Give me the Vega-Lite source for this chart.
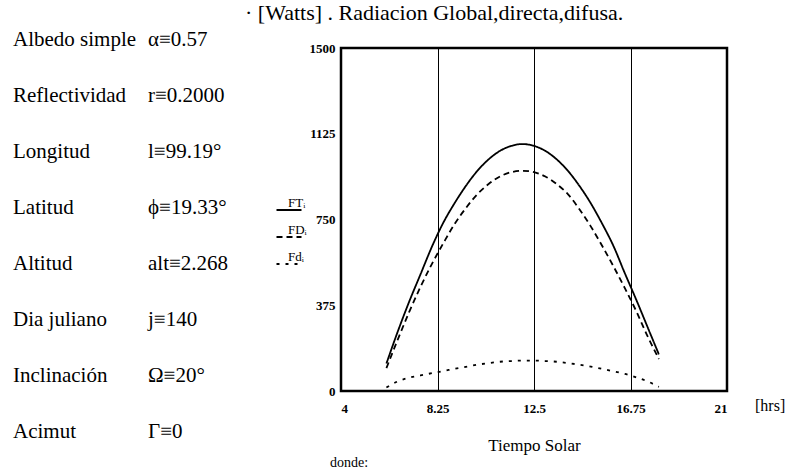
{
  "$schema": "https://vega.github.io/schema/vega-lite/v6.json",
  "background": "white",
  "padding": {"left": 0, "top": 0, "right": 5, "bottom": 0},
  "config": {"font": "Liberation Serif", "view": {"stroke": null}, "legend": {"labelFontSize": 13, "labelFont": "Liberation Serif", "labelColor": "black"}},
  "bounds": "flush",
  "spacing": 101,
  "hconcat": [
    {
      "width": 240,
      "height": 392,
      "data": {"values": [
        {"fila": 1, "parametro": "Albedo simple", "valor": "α≡0.57"},
        {"fila": 2, "parametro": "Reflectividad", "valor": "r≡0.2000"},
        {"fila": 3, "parametro": "Longitud", "valor": "l≡99.19°"},
        {"fila": 4, "parametro": "Latitud", "valor": "ϕ≡19.33°"},
        {"fila": 5, "parametro": "Altitud", "valor": "alt≡2.268"},
        {"fila": 6, "parametro": "Dia juliano", "valor": "j≡140"},
        {"fila": 7, "parametro": "Inclinación", "valor": "Ω≡20°"},
        {"fila": 8, "parametro": "Acimut", "valor": "Γ≡0"}
      ]},
      "transform": [{"fold": ["parametro", "valor"], "as": ["columna", "texto"]}],
      "mark": {"type": "text", "align": "left", "baseline": "middle", "fontSize": 21, "color": "black", "dy": -8},
      "encoding": {
        "x": {"field": "columna", "type": "nominal", "axis": null,
              "scale": {"type": "point", "domain": ["parametro", "valor"], "range": [13, 148], "padding": 0}},
        "y": {"field": "fila", "type": "quantitative", "axis": null,
              "scale": {"domain": [1, 8], "reverse": true, "nice": false, "zero": false}},
        "text": {"field": "texto", "type": "nominal"}
      }
    },
    {
      "width": 386,
      "height": 343,
      "view": {"stroke": "black", "strokeWidth": 2.5},
      "resolve": {"legend": {"strokeDash": "independent"}},
      "title": {"text": "· [Watts] . Radiacion Global,directa,difusa.", "anchor": "start", "frame": "group",
                "dx": -96, "offset": 17, "fontSize": 22, "fontWeight": "normal", "font": "Liberation Serif", "color": "black"},
      "layer": [
        {
          "data": {"values": [
            {"t": 6.0, "serie": "FTᵢ", "F": 120}, {"t": 6.5, "serie": "FTᵢ", "F": 260}, {"t": 7.0, "serie": "FTᵢ", "F": 390},
            {"t": 7.5, "serie": "FTᵢ", "F": 510}, {"t": 8.0, "serie": "FTᵢ", "F": 630}, {"t": 8.5, "serie": "FTᵢ", "F": 735},
            {"t": 9.0, "serie": "FTᵢ", "F": 821}, {"t": 9.5, "serie": "FTᵢ", "F": 897}, {"t": 10.0, "serie": "FTᵢ", "F": 962},
            {"t": 10.5, "serie": "FTᵢ", "F": 1013}, {"t": 11.0, "serie": "FTᵢ", "F": 1050}, {"t": 11.5, "serie": "FTᵢ", "F": 1072},
            {"t": 12.0, "serie": "FTᵢ", "F": 1080}, {"t": 12.5, "serie": "FTᵢ", "F": 1072}, {"t": 13.0, "serie": "FTᵢ", "F": 1050},
            {"t": 13.5, "serie": "FTᵢ", "F": 1013}, {"t": 14.0, "serie": "FTᵢ", "F": 962}, {"t": 14.5, "serie": "FTᵢ", "F": 897},
            {"t": 15.0, "serie": "FTᵢ", "F": 821}, {"t": 15.5, "serie": "FTᵢ", "F": 732}, {"t": 16.0, "serie": "FTᵢ", "F": 634},
            {"t": 16.5, "serie": "FTᵢ", "F": 515}, {"t": 17.0, "serie": "FTᵢ", "F": 400}, {"t": 17.5, "serie": "FTᵢ", "F": 280},
            {"t": 18.0, "serie": "FTᵢ", "F": 160},
            {"t": 6.0, "serie": "FDᵢ", "F": 100}, {"t": 6.5, "serie": "FDᵢ", "F": 225}, {"t": 7.0, "serie": "FDᵢ", "F": 345},
            {"t": 7.5, "serie": "FDᵢ", "F": 455}, {"t": 8.0, "serie": "FDᵢ", "F": 555}, {"t": 8.5, "serie": "FDᵢ", "F": 645},
            {"t": 9.0, "serie": "FDᵢ", "F": 730}, {"t": 9.5, "serie": "FDᵢ", "F": 800}, {"t": 10.0, "serie": "FDᵢ", "F": 860},
            {"t": 10.5, "serie": "FDᵢ", "F": 905}, {"t": 11.0, "serie": "FDᵢ", "F": 938}, {"t": 11.5, "serie": "FDᵢ", "F": 957},
            {"t": 12.0, "serie": "FDᵢ", "F": 963}, {"t": 12.5, "serie": "FDᵢ", "F": 957}, {"t": 13.0, "serie": "FDᵢ", "F": 938},
            {"t": 13.5, "serie": "FDᵢ", "F": 905}, {"t": 14.0, "serie": "FDᵢ", "F": 860}, {"t": 14.5, "serie": "FDᵢ", "F": 795},
            {"t": 15.0, "serie": "FDᵢ", "F": 720}, {"t": 15.5, "serie": "FDᵢ", "F": 635}, {"t": 16.0, "serie": "FDᵢ", "F": 545},
            {"t": 16.5, "serie": "FDᵢ", "F": 450}, {"t": 17.0, "serie": "FDᵢ", "F": 350}, {"t": 17.5, "serie": "FDᵢ", "F": 240},
            {"t": 18.0, "serie": "FDᵢ", "F": 140},
            {"t": 6.0, "serie": "Fdᵢ", "F": 15}, {"t": 6.5, "serie": "Fdᵢ", "F": 42}, {"t": 7.0, "serie": "Fdᵢ", "F": 58},
            {"t": 7.5, "serie": "Fdᵢ", "F": 68}, {"t": 8.0, "serie": "Fdᵢ", "F": 78}, {"t": 8.5, "serie": "Fdᵢ", "F": 87},
            {"t": 9.0, "serie": "Fdᵢ", "F": 97}, {"t": 9.5, "serie": "Fdᵢ", "F": 106}, {"t": 10.0, "serie": "Fdᵢ", "F": 115},
            {"t": 10.5, "serie": "Fdᵢ", "F": 122}, {"t": 11.0, "serie": "Fdᵢ", "F": 128}, {"t": 11.5, "serie": "Fdᵢ", "F": 131},
            {"t": 12.0, "serie": "Fdᵢ", "F": 133}, {"t": 12.5, "serie": "Fdᵢ", "F": 133}, {"t": 13.0, "serie": "Fdᵢ", "F": 131},
            {"t": 13.5, "serie": "Fdᵢ", "F": 128}, {"t": 14.0, "serie": "Fdᵢ", "F": 122}, {"t": 14.5, "serie": "Fdᵢ", "F": 115},
            {"t": 15.0, "serie": "Fdᵢ", "F": 107}, {"t": 15.5, "serie": "Fdᵢ", "F": 97}, {"t": 16.0, "serie": "Fdᵢ", "F": 86},
            {"t": 16.5, "serie": "Fdᵢ", "F": 75}, {"t": 17.0, "serie": "Fdᵢ", "F": 60}, {"t": 17.5, "serie": "Fdᵢ", "F": 42},
            {"t": 18.0, "serie": "Fdᵢ", "F": 18}
          ]},
          "mark": {"type": "line", "color": "black", "strokeWidth": 1.8, "interpolate": "monotone"},
          "encoding": {
            "x": {"field": "t", "type": "quantitative",
                  "scale": {"domain": [4, 21], "nice": false, "zero": false},
                  "axis": {"values": [4, 8.25, 12.5, 16.75, 21], "format": ".4~g", "grid": true, "gridColor": "black", "gridWidth": 1, "gridOpacity": 1,
                           "domain": false, "ticks": false, "labelFontSize": 13, "labelFontWeight": "bold", "labelColor": "black",
                           "labelPadding": 11, "labelFlush": true, "title": "Tiempo Solar", "titleFontSize": 17, "titleFontWeight": "normal",
                           "titleColor": "black", "titlePadding": 22}},
            "y": {"field": "F", "type": "quantitative",
                  "scale": {"domain": [0, 1500], "nice": false},
                  "axis": {"values": [0, 375, 750, 1125, 1500], "format": "d", "grid": false, "domain": false, "ticks": false,
                           "labelFontSize": 13, "labelFontWeight": "bold", "labelColor": "black", "labelPadding": 6, "title": null}},
            "strokeDash": {"field": "serie", "type": "nominal",
                           "scale": {"domain": ["FTᵢ", "FDᵢ", "Fdᵢ"], "range": [[1, 0], [6, 4], [3, 6]]},
                           "legend": {"orient": "none", "legendX": -66, "legendY": 148, "title": null, "symbolType": "stroke",
                                      "symbolSize": 625, "symbolStrokeWidth": 2.2, "symbolStrokeColor": "black",
                                      "labelOffset": -15, "labelBaseline": "bottom", "labelFontSize": 13, "labelColor": "black",
                                      "rowPadding": 8, "padding": 0}},
            "detail": {"field": "serie", "type": "nominal"}
          }
        },
        {
          "data": {"values": [{"nota": "[hrs]"}]},
          "mark": {"type": "text", "align": "left", "baseline": "middle", "fontSize": 16, "color": "black", "dx": 28, "dy": 15},
          "encoding": {"x": {"datum": 21}, "y": {"datum": 0}, "text": {"field": "nota"}}
        },
        {
          "data": {"values": [{"nota": "donde:"}]},
          "mark": {"type": "text", "align": "left", "baseline": "middle", "fontSize": 14, "color": "black", "dx": -11, "dy": 72},
          "encoding": {"x": {"datum": 4}, "y": {"datum": 0}, "text": {"field": "nota"}}
        }
      ]
    }
  ]
}
